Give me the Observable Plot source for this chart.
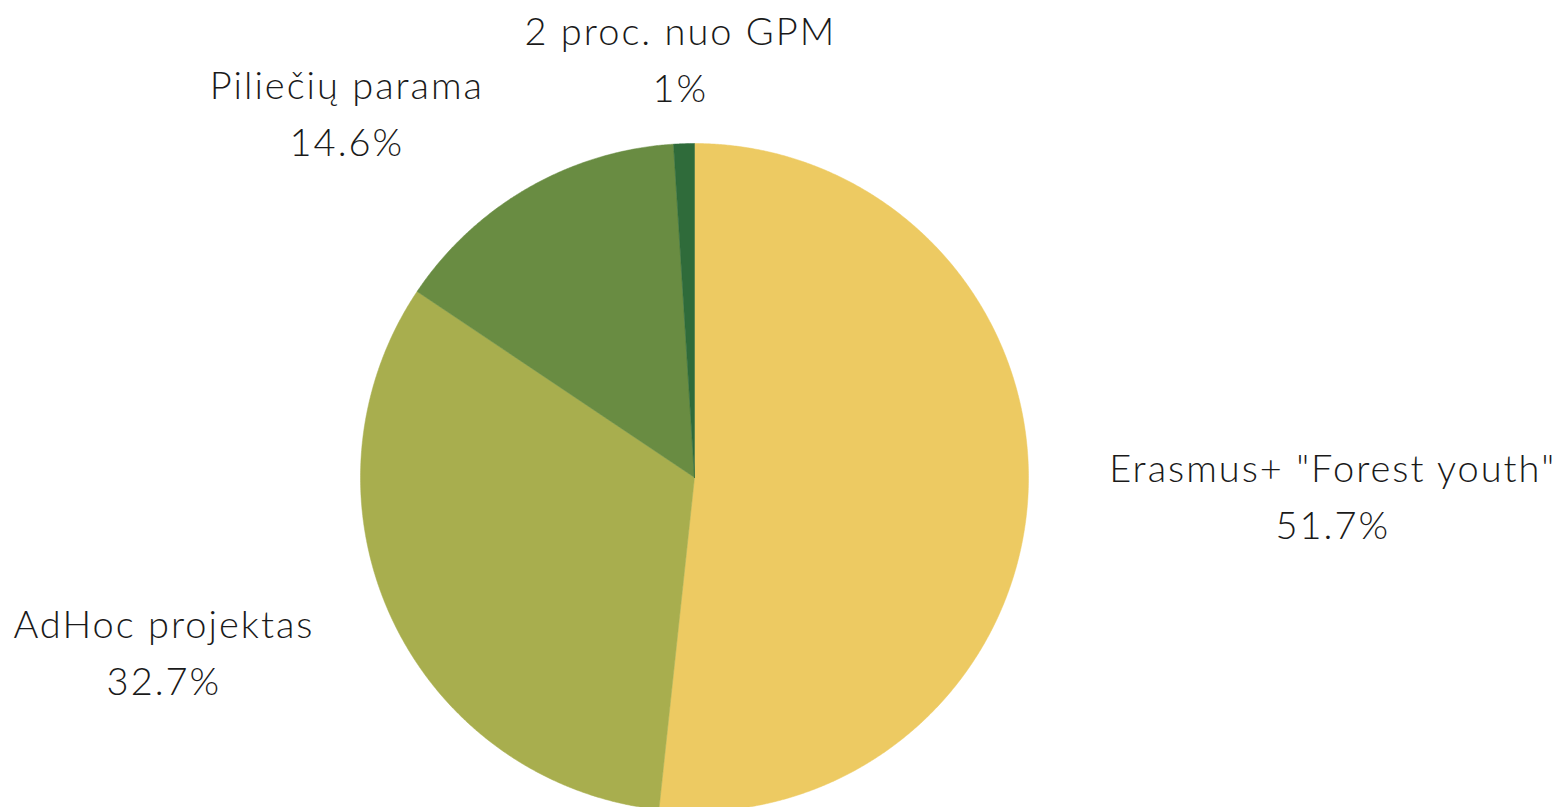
<!DOCTYPE html>
<html>
<head>
<meta charset="utf-8">
<script src="https://cdn.jsdelivr.net/npm/d3@7"></script>
<script src="https://cdn.jsdelivr.net/npm/@observablehq/plot@0.6"></script>
<style>
  html, body { margin: 0; padding: 0; background: #fff; }
  #chart svg { display: block; }
</style>
</head>
<body>
<div id="chart"></div>
<script>
// Data (slices in clockwise order from 12 o'clock)
const names = ["Erasmus+ \"Forest youth\"", "AdHoc projektas", "Piliečių parama", "2 proc. nuo GPM"];
const shares = [51.7, 32.7, 14.6, 1.0];
const shareLabels = ["51.7%", "32.7%", "14.6%", "1%"];
const colors = ["#EDCA62", "#A8AE4E", "#698C42", "#2F6B3A"];

// Build slices with d3.pie (clockwise from top)
const pie = d3.pie().sort(null).value(d => d.value);
const arcs = pie(names.map((n, i) => ({name: n, value: shares[i], label: shareLabels[i]})));

// Polygon points for each slice (center -> arc -> center), in unit-circle coords
const pts = [];
for (const a of arcs) {
  const n = Math.max(2, Math.ceil((a.endAngle - a.startAngle) / 0.005));
  pts.push({key: a.data.name, x: 0, y: 0});
  for (let k = 0; k <= n; k++) {
    const t = a.startAngle + (a.endAngle - a.startAngle) * k / n;
    pts.push({key: a.data.name, x: Math.sin(t), y: Math.cos(t)});
  }
  pts.push({key: a.data.name, x: 0, y: 0});
}

// Label anchors along each slice's mid-angle
const R = 1.35;
const labels = arcs.map(a => {
  const m = (a.startAngle + a.endAngle) / 2;
  return {name: a.data.name, x: R * Math.sin(m), y: R * Math.cos(m), text: a.data.name + "\n" + a.data.label};
});
const offsets = {
  [names[0]]: [188, -9],
  [names[1]]: [-122, -20],
  [names[2]]: [-123, 23],
  [names[3]]: [0, 28]
};

const textMarks = labels.map(l => Plot.text([l], {
  x: "x", y: "y", text: "text",
  dx: offsets[l.name][0], dy: offsets[l.name][1],
  lineAnchor: "middle", lineHeight: 1.5,
  fontSize: 38, fill: "#1a1a1a", textAnchor: "middle"
}));

const chart = Plot.plot({
  width: 1557,
  height: 807,
  margin: 0,
  style: {fontFamily: "Lato, 'Open Sans', sans-serif", fontWeight: 300, letterSpacing: "2px", background: "#fff"},
  x: {domain: [-1, 1], range: [360, 1028], axis: null},
  y: {domain: [-1, 1], range: [811, 143], axis: null},
  color: {domain: names, range: colors},
  marks: [
    Plot.line(pts, {x: "x", y: "y", z: "key", fill: "key", stroke: "key", strokeWidth: 0.5, curve: "linear"}),
    ...textMarks
  ]
});
document.getElementById("chart").appendChild(chart);
</script>
</body>
</html>
